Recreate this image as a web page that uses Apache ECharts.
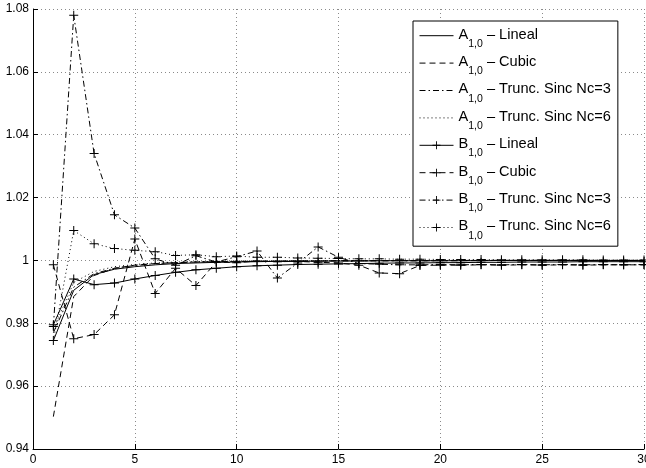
<!DOCTYPE html>
<html>
<head>
<meta charset="utf-8">
<script src="https://cdn.jsdelivr.net/npm/echarts@6/dist/echarts.min.js"></script>
<style>
html,body{margin:0;padding:0;background:#fff;}
#chart{width:646px;height:468px;}
</style>
</head>
<body>
<div id="chart"></div>
<script>
// x positions (sample index)
const xValues = [1,2,3,4,5,6,7,8,9,10,11,12,13,14,15,16,17,18,19,20,21,22,23,24,25,26,27,28,29,30];

// series values
const aLineal = [0.9745,0.9905,0.9955,0.9972,0.998,0.9986,0.999,0.9992,0.9994,0.9995,0.9996,0.9997,0.9997,0.9998,0.9998,0.9998,0.9999,0.9999,0.9999,0.9999,0.9999,0.9999,1.0,1.0,1.0,1.0,1.0,1.0,1.0,1.0];
const aCubic = [0.9503,0.9885,0.9952,0.9975,0.9985,0.999,0.9993,0.9995,0.9996,0.9997,0.9997,0.9998,0.9998,0.9998,0.9999,0.9999,0.9999,0.9999,0.9999,0.9999,0.9999,1.0,1.0,1.0,1.0,1.0,1.0,1.0,1.0,1.0];
const aSinc3 = [0.977,0.9915,0.9958,0.9975,0.9984,0.999,0.9993,0.9995,0.9996,0.9997,0.9997,0.9998,0.9998,0.9998,0.9999,0.9999,0.9999,0.9999,0.9999,0.9999,1.0,1.0,1.0,1.0,1.0,1.0,1.0,1.0,1.0,1.0];
const aSinc6 = [0.978,0.993,0.9965,0.998,0.9987,0.9992,0.9995,0.9996,0.9997,0.9998,0.9998,0.9998,0.9999,0.9999,0.9999,0.9999,0.9999,1.0,1.0,1.0,1.0,1.0,1.0,1.0,1.0,1.0,1.0,1.0,1.0,1.0];
const bLineal = [0.9795,0.9941,0.9923,0.9928,0.9941,0.9952,0.9962,0.997,0.9975,0.998,0.9983,0.9985,0.9987,0.9988,0.9989,0.999,0.9991,0.9992,0.9992,0.9993,0.9993,0.9994,0.9994,0.9995,0.9995,0.9995,0.9996,0.9996,0.9996,0.9996];
const bCubic = [0.9986,0.9751,0.9764,0.9827,1.0068,0.9895,0.9975,0.992,0.9995,0.9993,0.9998,0.9996,0.9997,0.9994,0.9992,0.9985,0.996,0.9958,0.9984,0.9985,0.9985,0.9986,0.9985,0.9986,0.9985,0.9986,0.9985,0.9986,0.9986,0.9986];
const bSinc3 = [0.979,1.078,1.034,1.0145,1.0103,1.0005,0.9985,1.0015,0.9995,1.0012,1.003,0.9944,0.9992,1.0043,1.001,0.999,0.9988,0.9986,0.9986,0.9987,0.9986,0.9987,0.9986,0.9987,0.9986,0.9987,0.9986,0.9987,0.9986,0.9987];
const bSinc6 = [0.9745,1.0095,1.0053,1.0038,1.0032,1.0028,1.0016,1.0018,1.0012,1.0014,1.001,1.001,1.0008,1.0007,1.0006,1.0005,1.0005,1.0004,1.0004,1.0003,1.0003,1.0003,1.0002,1.0002,1.0002,1.0002,1.0002,1.0001,1.0001,1.0001];

// legend text parts
const letters = ['A','A','A','A','B','B','B','B'];
const subscriptText = '1,0';
const methods = ['Lineal','Cubic','Trunc. Sinc Nc=3','Trunc. Sinc Nc=6','Lineal','Cubic','Trunc. Sinc Nc=3','Trunc. Sinc Nc=6'];

// tick labels
const xTicks = [0,5,10,15,20,25,30];
const yTicks = [0.94,0.96,0.98,1.0,1.02,1.04,1.06,1.08];

const allValues = [aLineal,aCubic,aSinc3,aSinc6,bLineal,bCubic,bSinc3,bSinc6];
const dashes = ['solid',[6,4],[6,3,1.5,3],[1,3],'solid',[6,4],[6,3,1.5,3],[1,3]];
const plusPath = 'path://M4,0 H5 V4 H9 V5 H5 V9 H4 V5 H0 V4 H4 Z';

const names = allValues.map((_, i) => letters[i] + '_' + subscriptText + ' – ' + methods[i]);
const richNames = {};
names.forEach((n, i) => {
  richNames[n] = '{m|' + letters[i] + '}{s|' + subscriptText + '}{m| – ' + methods[i] + '}';
});

const series = allValues.map((vals, i) => {
  const isB = letters[i] === 'B';
  return {
    name: names[i],
    type: 'line',
    data: xValues.map((x, k) => [x, vals[k]]),
    symbol: isB ? plusPath : 'none',
    symbolSize: 9,
    showSymbol: isB,
    showAllSymbol: true,
    itemStyle: { color: '#000' },
    lineStyle: { color: '#000', width: 1, type: dashes[i] },
    emphasis: { disabled: true },
    silent: true,
    z: 2 + i
  };
});

const legendData = names.map((n, i) => letters[i] === 'A'
  ? { name: n, itemStyle: { color: 'rgba(0,0,0,0)', borderColor: 'rgba(0,0,0,0)', borderWidth: 0 } }
  : { name: n });

const chart = echarts.init(document.getElementById('chart'), null, { renderer: 'canvas' });
const fontFam = '"Liberation Sans", Arial, Helvetica, sans-serif';
chart.setOption({
  animation: false,
  backgroundColor: '#fff',
  textStyle: { fontFamily: fontFam },
  grid: { left: 33, right: 2, top: 9, bottom: 19, containLabel: false, outerBoundsMode: 'none' },
  xAxis: {
    type: 'value',
    min: xTicks[0],
    max: xTicks[xTicks.length - 1],
    interval: 5,
    axisLine: { show: true, lineStyle: { color: '#000', width: 1 } },
    axisTick: { show: true, inside: true, length: 5, lineStyle: { color: '#000' } },
    axisLabel: { color: '#000', fontSize: 12, margin: 5, fontFamily: fontFam, showMaxLabel: true },
    splitLine: { show: true, lineStyle: { color: '#8a8a8a', width: 1, type: [1, 3] } }
  },
  yAxis: {
    type: 'value',
    min: yTicks[0],
    max: yTicks[yTicks.length - 1],
    interval: 0.02,
    axisLine: { show: true, lineStyle: { color: '#000', width: 1 } },
    axisTick: { show: true, inside: true, length: 5, lineStyle: { color: '#000' } },
    axisLabel: {
      color: '#000', fontSize: 12, margin: 4, fontFamily: fontFam,
      formatter: v => String(+(+v).toFixed(2))
    },
    splitLine: { show: true, lineStyle: { color: '#8a8a8a', width: 1, type: [1, 3] } }
  },
  legend: {
    orient: 'vertical',
    left: 413,
    top: 21,
    padding: [1, 7, 5, 6],
    itemGap: 0,
    itemWidth: 34,
    itemHeight: 10,
    backgroundColor: '#fff',
    borderColor: '#000',
    borderWidth: 1,
    selectedMode: false,
    data: legendData,
    formatter: n => richNames[n],
    lineStyle: { width: 1 },
    textStyle: {
      color: '#000',
      fontFamily: fontFam,
      rich: {
        m: { fontSize: 14.6, lineHeight: 16, padding: [4, 0, 6.4, 0], fontFamily: fontFam, color: '#000' },
        s: { fontSize: 10.5, lineHeight: 10, padding: [16.4, 0, 0, 0], fontFamily: fontFam, color: '#000' }
      }
    }
  },
  series: series
});
</script>
</body>
</html>
